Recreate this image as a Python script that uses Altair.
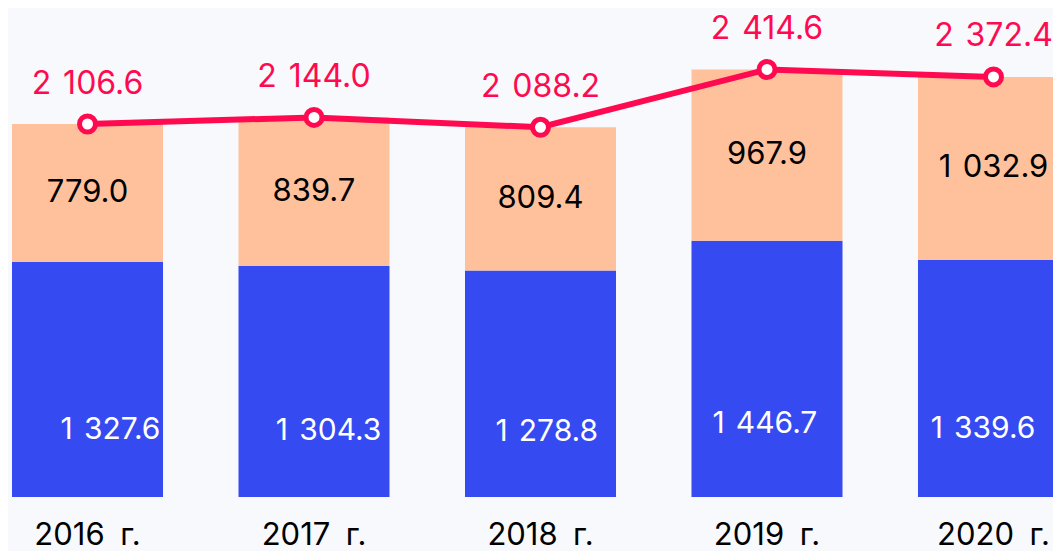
import altair as alt
import pandas as pd

years = ["2016 г.", "2017 г.", "2018 г.", "2019 г.", "2020 г."]
blue_vals = [1327.6, 1304.3, 1278.8, 1446.7, 1339.6]
peach_vals = [779.0, 839.7, 809.4, 967.9, 1032.9]
totals = [2106.6, 2144.0, 2088.2, 2414.6, 2372.4]

BLUE = "#364AF2"
PEACH = "#FFC19C"
RED = "#FF0A50"
BG = "#F7F9FC"
FONT = "Inter"
SEP = " \u200a"  # plain space plus a hair space


def fmt(v):
    return f"{v:,.1f}".replace(",", SEP)


df = pd.DataFrame({
    "year": years,
    "blue": blue_vals,
    "peach": peach_vals,
    "total": totals,
    "blue_lbl": [fmt(v) for v in blue_vals],
    "peach_lbl": [fmt(v) for v in peach_vals],
    "total_lbl": [fmt(v) for v in totals],
})

xs = alt.Scale(type="band", domain=years, range=[0, 1065],
               paddingInner=0.3333, paddingOuter=0.0177, round=False)
ys = alt.Scale(domain=[0, 2761.8], nice=False, zero=True)

base = alt.Chart(df)

x_axis = alt.Axis(
    title=None, domain=False, ticks=False, tickSize=0, grid=False,
    labelFontSize=31, labelFont=FONT, labelColor="#000000",
    labelPadding=47, labelBaseline="alphabetic", labelAngle=0,
    labelExpr="replace(datum.label, ' ', '\u2002')",
)

blue_bars = base.mark_bar(color=BLUE).encode(
    x=alt.X("year:N", scale=xs, axis=x_axis, sort=years),
    y=alt.Y("blue:Q", scale=ys, axis=None),
)

peach_bars = base.transform_calculate(top="datum.blue + datum.peach").mark_bar(color=PEACH).encode(
    x=alt.X("year:N", scale=xs, axis=None, sort=years),
    y=alt.Y("blue:Q", scale=ys, axis=None),
    y2="top:Q",
)

line = base.mark_line(color=RED, strokeWidth=6).encode(
    x=alt.X("year:N", scale=xs, axis=None, sort=years),
    y=alt.Y("total:Q", scale=ys, axis=None),
)

points = base.mark_point(
    shape="circle", filled=True, fill="white", stroke=RED, strokeWidth=5, size=256, opacity=1
).encode(
    x=alt.X("year:N", scale=xs, axis=None, sort=years),
    y=alt.Y("total:Q", scale=ys, axis=None),
)

total_text = base.mark_text(
    color=RED, fontSize=32, font=FONT, dy=-40.5, baseline="middle", align="center"
).encode(
    x=alt.X("year:N", scale=xs, axis=None, sort=years),
    y=alt.Y("total:Q", scale=ys, axis=None),
    text="total_lbl:N",
)

peach_text = base.transform_calculate(mid="datum.blue + datum.peach / 2").mark_text(
    color="#000000", fontSize=31, font=FONT, baseline="middle", align="center"
).encode(
    x=alt.X("year:N", scale=xs, axis=None, sort=years),
    y=alt.Y("mid:Q", scale=ys, axis=None),
    text="peach_lbl:N",
)

blue_text = base.transform_calculate(pos="datum.blue * 0.285").mark_text(
    color="#FFFFFF", fontSize=30, font=FONT, baseline="middle", align="center"
).encode(
    x=alt.X("year:N", scale=alt.Scale(type="point", domain=years, range=[102.5, 975], padding=0),
            axis=None, sort=years),
    y=alt.Y("pos:Q", scale=ys, axis=None),
    text="blue_lbl:N",
)

chart = alt.layer(
    blue_bars, peach_bars, line, points, total_text, peach_text, blue_text
).resolve_scale(x="independent").properties(
    width=1045,
    height=489,
    background=BG,
    autosize=alt.AutoSizeParams(type="none"),
    padding={"left": 0, "top": 0, "right": 0, "bottom": 54},
).configure_view(stroke=None)

chart.save("out.html", embed_options={"renderer": "svg", "actions": False})
